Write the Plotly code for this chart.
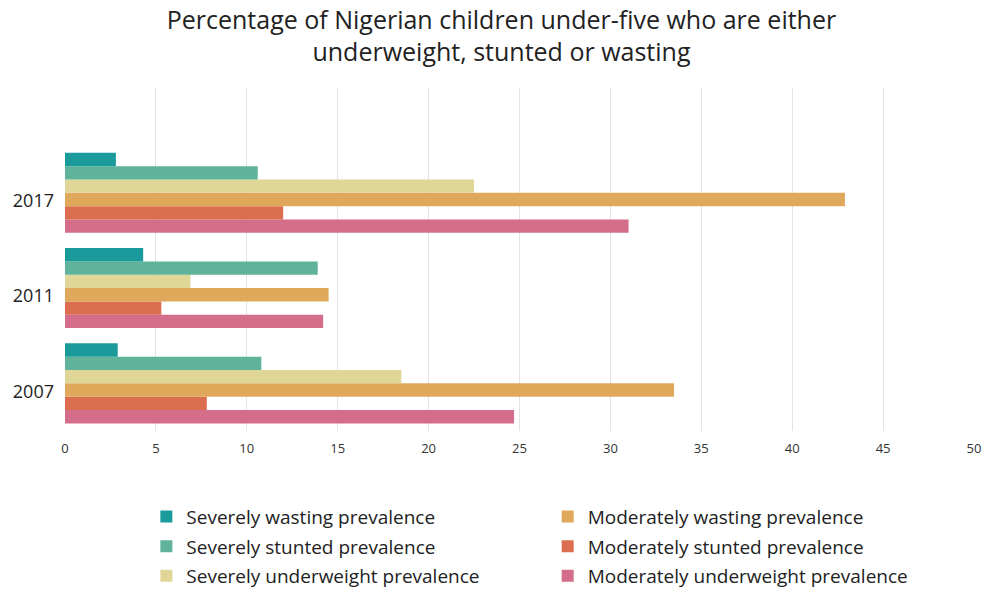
import plotly.graph_objects as go

# Survey years (bottom to top on the category axis)
years = ["2007", "2011", "2017"]

# Prevalence (%) per indicator, aligned with `years`
severely_wasting = [2.9, 4.3, 2.8]
severely_stunted = [10.8, 13.9, 10.6]
severely_underweight = [18.5, 6.9, 22.5]
moderately_wasting = [33.5, 14.5, 42.9]
moderately_stunted = [7.8, 5.3, 12.0]
moderately_underweight = [24.7, 14.2, 31.0]

x_ticks = [0, 5, 10, 15, 20, 25, 30, 35, 40, 45, 50]

title_text = ("Percentage of Nigerian children under-five who are either"
              "<br>underweight, stunted or wasting")

# name, values, colour, legend box (severe left column, moderate right column)
series = [
    ("Moderately underweight prevalence", moderately_underweight, "#d46d8a", "legend2", 3),
    ("Moderately stunted prevalence", moderately_stunted, "#dc6e50", "legend2", 2),
    ("Moderately wasting prevalence", moderately_wasting, "#e0a85a", "legend2", 1),
    ("Severely underweight prevalence", severely_underweight, "#e0d698", "legend", 3),
    ("Severely stunted prevalence", severely_stunted, "#5fb39b", "legend", 2),
    ("Severely wasting prevalence", severely_wasting, "#1a9a9a", "legend", 1),
]

fig = go.Figure()
for name, vals, color, legend_id, rank in series:
    fig.add_trace(go.Bar(
        y=years, x=vals, name=name, orientation="h",
        marker=dict(color=color, line=dict(width=0)),
        legend=legend_id, legendrank=rank, legendgroup=name,
    ))

font_family = "'Open Sans', sans-serif"

legend_common = dict(
    orientation="v", xanchor="left",
    y=0.158, yanchor="top", yref="container",
    traceorder="grouped", tracegroupgap=2,
    font=dict(size=19, color="#222", family=font_family),
    itemclick=False, bgcolor="rgba(0,0,0,0)",
)

fig.update_layout(
    width=993, height=591,
    margin=dict(l=65, r=13, t=88, b=160),
    paper_bgcolor="white", plot_bgcolor="white",
    barmode="group", bargap=0.16, bargroupgap=0,
    font=dict(family=font_family, color="#222222"),
    title=dict(
        text=title_text,
        x=0.505, xanchor="center", xref="container",
        y=0.951, yanchor="middle", yref="container",
        font=dict(size=25, color="#222222", family=font_family),
    ),
    xaxis=dict(
        range=[0, 50], tickvals=x_ticks, showgrid=True,
        gridcolor="#e3e3e3", gridwidth=1, zeroline=False,
        showline=False, ticks="", ticklabelstandoff=8,
        tickfont=dict(size=13, color="#333"),
    ),
    yaxis=dict(
        type="category", range=[-0.5, 3.1], showgrid=False,
        ticks="", ticklabelshift=8, ticklabelstandoff=10,
        tickfont=dict(size=18, color="#222"),
    ),
    legend=dict(x=0.0895, **legend_common),
    legend2=dict(x=0.531, **legend_common),
    showlegend=True,
)

fig.write_html("out.html")
